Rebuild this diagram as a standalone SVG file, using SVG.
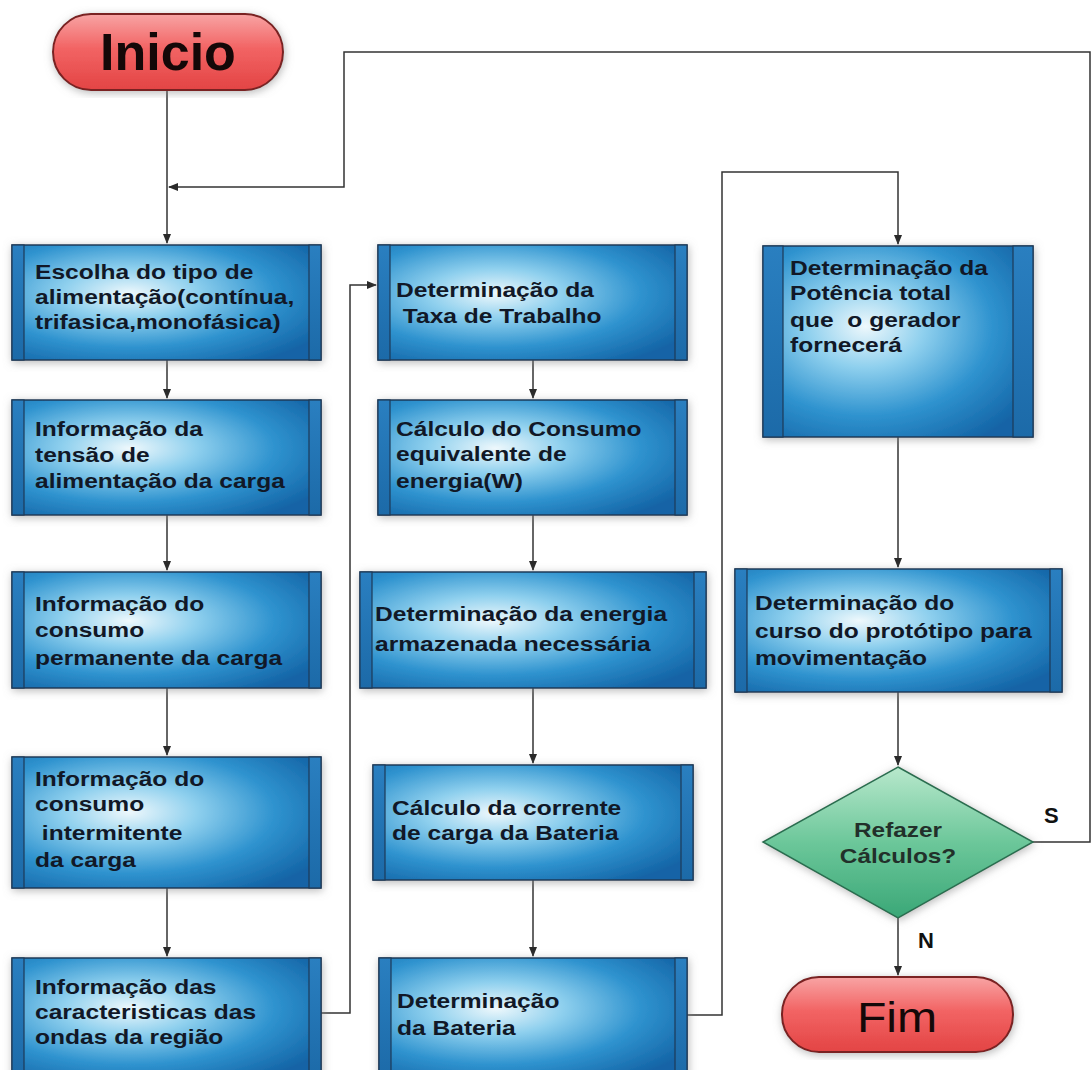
<svg xmlns="http://www.w3.org/2000/svg" width="1092" height="1070" viewBox="0 0 1092 1070">
<defs>
<radialGradient id="gb" cx="0.38" cy="0.42" r="0.72">
<stop offset="0" stop-color="#eef8fc"/>
<stop offset="0.3" stop-color="#8fd0ee"/>
<stop offset="0.65" stop-color="#2f93cf"/>
<stop offset="1" stop-color="#1464a6"/>
</radialGradient>
<linearGradient id="gs" x1="0" y1="0" x2="0" y2="1">
<stop offset="0" stop-color="#2a7fc0"/>
<stop offset="1" stop-color="#1c6aa8"/>
</linearGradient>
<linearGradient id="gr" x1="0" y1="0" x2="0" y2="1">
<stop offset="0" stop-color="#f8a4a4"/>
<stop offset="0.45" stop-color="#f26464"/>
<stop offset="1" stop-color="#e34444"/>
</linearGradient>
<linearGradient id="gg" x1="0" y1="0" x2="0" y2="1">
<stop offset="0" stop-color="#b8e8cc"/>
<stop offset="0.5" stop-color="#6cc79a"/>
<stop offset="1" stop-color="#3aa777"/>
</linearGradient>
<filter id="sh" x="-10%" y="-10%" width="120%" height="120%">
<feDropShadow dx="1" dy="2" stdDeviation="4" flood-color="#8a8a8a" flood-opacity="0.6"/>
</filter>
<marker id="ar" markerWidth="10" markerHeight="8" refX="9" refY="4" orient="auto" markerUnits="userSpaceOnUse">
<path d="M0,0 L10,4 L0,8 z" fill="#2a2a2a"/>
</marker>
<style>
.box{fill:url(#gb);stroke:#1d3a58;stroke-width:1.5}
.stripe{fill:url(#gs);stroke:#1d3a58;stroke-width:1.2}
.t{font-family:"Liberation Sans",Arial,sans-serif;font-weight:bold;font-size:21px;fill:#111827;white-space:pre}
.c{fill:none;stroke:#333;stroke-width:1.5}
.lbl{font-family:"Liberation Sans",Arial,sans-serif;font-weight:bold;font-size:22px;fill:#111}
</style>
</defs>
<rect width="1092" height="1070" fill="#ffffff"/>

<g id="connectors">
<path class="c" d="M167,90 V243" marker-end="url(#ar)"/>
<path class="c" d="M1033,842 H1090 V52 H344 V187 H169" marker-end="url(#ar)"/>
<path class="c" d="M167,360 V398" marker-end="url(#ar)"/>
<path class="c" d="M167,515 V570" marker-end="url(#ar)"/>
<path class="c" d="M167,688 V755" marker-end="url(#ar)"/>
<path class="c" d="M167,888 V956" marker-end="url(#ar)"/>
<path class="c" d="M321,1013 H350 V285 H376" marker-end="url(#ar)"/>
<path class="c" d="M533,360 V398" marker-end="url(#ar)"/>
<path class="c" d="M533,515 V570" marker-end="url(#ar)"/>
<path class="c" d="M533,688 V763" marker-end="url(#ar)"/>
<path class="c" d="M533,880 V956" marker-end="url(#ar)"/>
<path class="c" d="M687,1015 H722 V172 H898 V244" marker-end="url(#ar)"/>
<path class="c" d="M898,437 V567" marker-end="url(#ar)"/>
<path class="c" d="M898,692 V765" marker-end="url(#ar)"/>
<path class="c" d="M898,918 V975" marker-end="url(#ar)"/>
<text class="lbl" x="1044" y="823">S</text>
<text class="lbl" x="918" y="948">N</text>
</g>

<g id="inicio">
<rect x="53" y="14" width="230" height="76" rx="38" fill="url(#gr)" stroke="#7a2222" stroke-width="2" filter="url(#sh)"/>
<text x="168" y="70" text-anchor="middle" font-family="'Liberation Sans',Arial,sans-serif" font-weight="bold" font-size="52" fill="#140808">Inicio</text>
</g>

<g id="l1">
<rect class="box" x="12" y="245" width="309" height="115" filter="url(#sh)"/>
<rect class="stripe" x="12" y="245" width="12" height="115"/><rect class="stripe" x="309" y="245" width="12" height="115"/>
<text class="t" transform="translate(35 0) scale(1.17 1)"><tspan x="0" y="279">Escolha do tipo de</tspan><tspan x="0" y="304">alimentação(contínua,</tspan><tspan x="0" y="329">trifasica,monofásica)</tspan></text>
</g>
<g id="l2">
<rect class="box" x="12" y="400" width="309" height="115" filter="url(#sh)"/>
<rect class="stripe" x="12" y="400" width="12" height="115"/><rect class="stripe" x="309" y="400" width="12" height="115"/>
<text class="t" transform="translate(35 0) scale(1.17 1)"><tspan x="0" y="436">Informação da</tspan><tspan x="0" y="462">tensão de</tspan><tspan x="0" y="488">alimentação da carga</tspan></text>
</g>
<g id="l3">
<rect class="box" x="12" y="572" width="309" height="116" filter="url(#sh)"/>
<rect class="stripe" x="12" y="572" width="12" height="116"/><rect class="stripe" x="309" y="572" width="12" height="116"/>
<text class="t" transform="translate(35 0) scale(1.17 1)"><tspan x="0" y="611">Informação do</tspan><tspan x="0" y="637">consumo</tspan><tspan x="0" y="665">permanente da carga</tspan></text>
</g>
<g id="l4">
<rect class="box" x="12" y="757" width="309" height="131" filter="url(#sh)"/>
<rect class="stripe" x="12" y="757" width="12" height="131"/><rect class="stripe" x="309" y="757" width="12" height="131"/>
<text class="t" transform="translate(35 0) scale(1.17 1)"><tspan x="0" y="786">Informação do</tspan><tspan x="0" y="811">consumo</tspan><tspan x="0" y="840"> intermitente</tspan><tspan x="0" y="867">da carga</tspan></text>
</g>
<g id="l5">
<rect class="box" x="12" y="958" width="309" height="120" filter="url(#sh)"/>
<rect class="stripe" x="12" y="958" width="12" height="120"/><rect class="stripe" x="309" y="958" width="12" height="120"/>
<text class="t" transform="translate(35 0) scale(1.17 1)"><tspan x="0" y="994">Informação das</tspan><tspan x="0" y="1019">caracteristicas das</tspan><tspan x="0" y="1044">ondas da região</tspan></text>
</g>

<g id="m1">
<rect class="box" x="378" y="245" width="309" height="115" filter="url(#sh)"/>
<rect class="stripe" x="378" y="245" width="12" height="115"/><rect class="stripe" x="675" y="245" width="12" height="115"/>
<text class="t" transform="translate(396 0) scale(1.17 1)"><tspan x="0" y="297">Determinação da</tspan><tspan x="0" y="323"> Taxa de Trabalho</tspan></text>
</g>
<g id="m2">
<rect class="box" x="378" y="400" width="309" height="115" filter="url(#sh)"/>
<rect class="stripe" x="378" y="400" width="12" height="115"/><rect class="stripe" x="675" y="400" width="12" height="115"/>
<text class="t" transform="translate(396 0) scale(1.17 1)"><tspan x="0" y="436">Cálculo do Consumo</tspan><tspan x="0" y="461">equivalente de</tspan><tspan x="0" y="488">energia(W)</tspan></text>
</g>
<g id="m3">
<rect class="box" x="360" y="572" width="346" height="116" filter="url(#sh)"/>
<rect class="stripe" x="360" y="572" width="12" height="116"/><rect class="stripe" x="694" y="572" width="12" height="116"/>
<text class="t" transform="translate(375 0) scale(1.17 1)"><tspan x="0" y="621">Determinação da energia</tspan><tspan x="0" y="651">armazenada necessária</tspan></text>
</g>
<g id="m4">
<rect class="box" x="373" y="765" width="320" height="115" filter="url(#sh)"/>
<rect class="stripe" x="373" y="765" width="12" height="115"/><rect class="stripe" x="681" y="765" width="12" height="115"/>
<text class="t" transform="translate(392 0) scale(1.17 1)"><tspan x="0" y="815">Cálculo da corrente</tspan><tspan x="0" y="840">de carga da Bateria</tspan></text>
</g>
<g id="m5">
<rect class="box" x="379" y="958" width="308" height="120" filter="url(#sh)"/>
<rect class="stripe" x="379" y="958" width="12" height="120"/><rect class="stripe" x="675" y="958" width="12" height="120"/>
<text class="t" transform="translate(397 0) scale(1.17 1)"><tspan x="0" y="1008">Determinação</tspan><tspan x="0" y="1035">da Bateria</tspan></text>
</g>

<g id="r1">
<rect class="box" x="763" y="246" width="270" height="191" filter="url(#sh)"/>
<rect class="stripe" x="763" y="246" width="20" height="191"/><rect class="stripe" x="1013" y="246" width="20" height="191"/>
<text class="t" transform="translate(790 0) scale(1.17 1)"><tspan x="0" y="275">Determinação da</tspan><tspan x="0" y="300">Potência total</tspan><tspan x="0" y="327">que  o gerador</tspan><tspan x="0" y="352">fornecerá</tspan></text>
</g>
<g id="r2">
<rect class="box" x="735" y="569" width="327" height="123" filter="url(#sh)"/>
<rect class="stripe" x="735" y="569" width="12" height="123"/><rect class="stripe" x="1050" y="569" width="12" height="123"/>
<text class="t" transform="translate(755 0) scale(1.17 1)"><tspan x="0" y="610">Determinação do</tspan><tspan x="0" y="638">curso do protótipo para</tspan><tspan x="0" y="665">movimentação</tspan></text>
</g>

<g id="decisao">
<polygon points="898,767 1033,842 898,918 763,842" fill="url(#gg)" stroke="#2a6e50" stroke-width="1.5" filter="url(#sh)"/>
<text class="t" transform="translate(898 0) scale(1.16 1)" text-anchor="middle"><tspan x="0" y="837" style="fill:#22302a">Refazer</tspan><tspan x="0" y="863" style="fill:#22302a">Cálculos?</tspan></text>
</g>

<g id="fim">
<rect x="782" y="977" width="231" height="75" rx="37" fill="url(#gr)" stroke="#7a2222" stroke-width="2" filter="url(#sh)"/>
<text transform="translate(897 0) scale(1.12 1)" x="0" y="1032" text-anchor="middle" font-family="'Liberation Sans',Arial,sans-serif" font-size="43" fill="#140808">Fim</text>
</g>
</svg>
